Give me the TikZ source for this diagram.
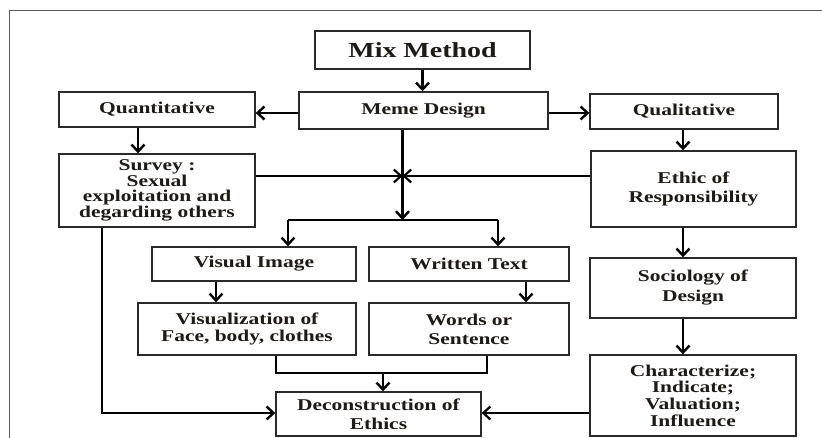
\documentclass[tikz,border=0pt]{standalone}
\usepackage{fontspec}
\setmainfont{Liberation Serif}[FakeStretch=1.3]
\usetikzlibrary{arrows.meta}
\definecolor{boxline}{HTML}{2A2A2A}
\definecolor{txt}{HTML}{1E1A16}
\tikzset{
  bx/.style={draw=boxline, line width=1.4pt, inner sep=0pt, align=center, text=txt,
    font=\fontsize{16.5}{17.5}\selectfont\bfseries},
  arr/.style={draw=black, line width=2.4pt, -{Straight Barb[length=7pt,width=13pt]}},
  arrthin/.style={draw=black, line width=1.6pt, -{Straight Barb[length=7pt,width=13pt,line width=2.2pt]}},
  ln/.style={draw=black, line width=2.4pt},
}
\begin{document}
\begin{tikzpicture}[x=1pt,y=-1pt]
\useasboundingbox (0,0) rectangle (822,438);
\fill[white] (0,0) rectangle (822,438);
% frame
\draw[gray!70!black, line width=1pt] (9,438) -- (9,11) -- (822,11);

% boxes
\node[bx, minimum width=215, minimum height=38, font=\fontsize{21.5}{23}\selectfont\bfseries] (mix) at (422.5,50) {Mix Method};
\node[bx, minimum width=249, minimum height=37] (meme) at (423.5,110.5) {Meme Design};
\node[bx, minimum width=196, minimum height=35] (quant) at (157,109.5) {Quantitative};
\node[bx, minimum width=188, minimum height=35] (qual) at (684,111.5) {Qualitative};
\node[bx, minimum width=196, minimum height=73, font=\fontsize{16.5}{15.5}\selectfont\bfseries] (survey) at (157,190.5) {Survey :\\Sexual\\exploitation and\\degarding others};
\node[bx, minimum width=205, minimum height=76, font=\fontsize{16.5}{19}\selectfont\bfseries] (ethic) at (693.5,189) {Ethic of\\Responsibility};
\node[bx, minimum width=204, minimum height=34] (visual) at (254,264) {Visual Image};
\node[bx, minimum width=200, minimum height=34] (written) at (469,264) {Written Text};
\node[bx, minimum width=218, minimum height=52] (vis2) at (247,329) {Visualization of\\Face, body, clothes};
\node[bx, minimum width=200, minimum height=52, font=\fontsize{16.5}{19}\selectfont\bfseries] (words) at (469,329) {Words or\\Sentence};
\node[bx, minimum width=206, minimum height=60, font=\fontsize{16.5}{20}\selectfont\bfseries] (socio) at (693,288) {Sociology of\\Design};
\node[bx, minimum width=206, minimum height=81, font=\fontsize{16.5}{16.7}\selectfont\bfseries] (charac) at (693,395.5) {Characterize;\\Indicate;\\Valuation;\\Influence};
\node[bx, minimum width=205, minimum height=44, font=\fontsize{16.5}{19}\selectfont\bfseries] (decon) at (378.5,414) {Deconstruction of\\Ethics};

% helper coordinates
\coordinate (c) at (402.5,176);
\coordinate (j) at (402.5,220);
\coordinate (jl) at (288,220);
\coordinate (jr) at (498,220);
\coordinate (b1) at (276,373);
\coordinate (b2) at (487,373);
\coordinate (bm) at (383,373);
\coordinate (s1) at (102,413);
\coordinate (vx) at (216,0);
\coordinate (wx) at (526,0);

% connectors
\draw[arr] (mix.south) -- (mix.south |- meme.north);
\draw[arr] ([yshift=-2.5]meme.west) -- ([yshift=-2.5]meme.west -| quant.east);
\draw[arr] ([yshift=-2.5]meme.east) -- ([yshift=-2.5]meme.east -| qual.west);
\draw[arr] ([xshift=-19]quant.south) -- ([xshift=-19]quant.south |- survey.north);
\draw[arr] ([xshift=-1]qual.south) -- ([xshift=-1]qual.south |- ethic.north);
\draw[arr] (meme.south -| j) -- (j);
\draw[ln] (jl) -- (jr);
\draw[arr] (jl) -- (jl |- visual.north);
\draw[arr] (jr) -- (jr |- written.north);
\draw[arrthin] (survey.east |- c) -- (c);
\draw[arrthin] (ethic.west |- c) -- (c);
\draw[arr] (visual.south -| vx) -- (vis2.north -| vx);
\draw[arr] (written.south -| wx) -- (words.north -| wx);
\draw[ln] (vis2.south -| b1) -- (b1) -- (b2) -- (words.south -| b2);
\draw[arr] (bm) -- (bm |- decon.north);
\draw[arr] (survey.south -| s1) -- (s1) -- (s1 -| decon.west);
\draw[arrthin] (charac.west |- s1) -- (s1 -| decon.east);
\draw[arr] ([xshift=-10.5]ethic.south) -- ([xshift=-10.5]ethic.south |- socio.north);
\draw[arr] ([xshift=-10]socio.south) -- ([xshift=-10]socio.south |- charac.north);
\end{tikzpicture}
\end{document}
